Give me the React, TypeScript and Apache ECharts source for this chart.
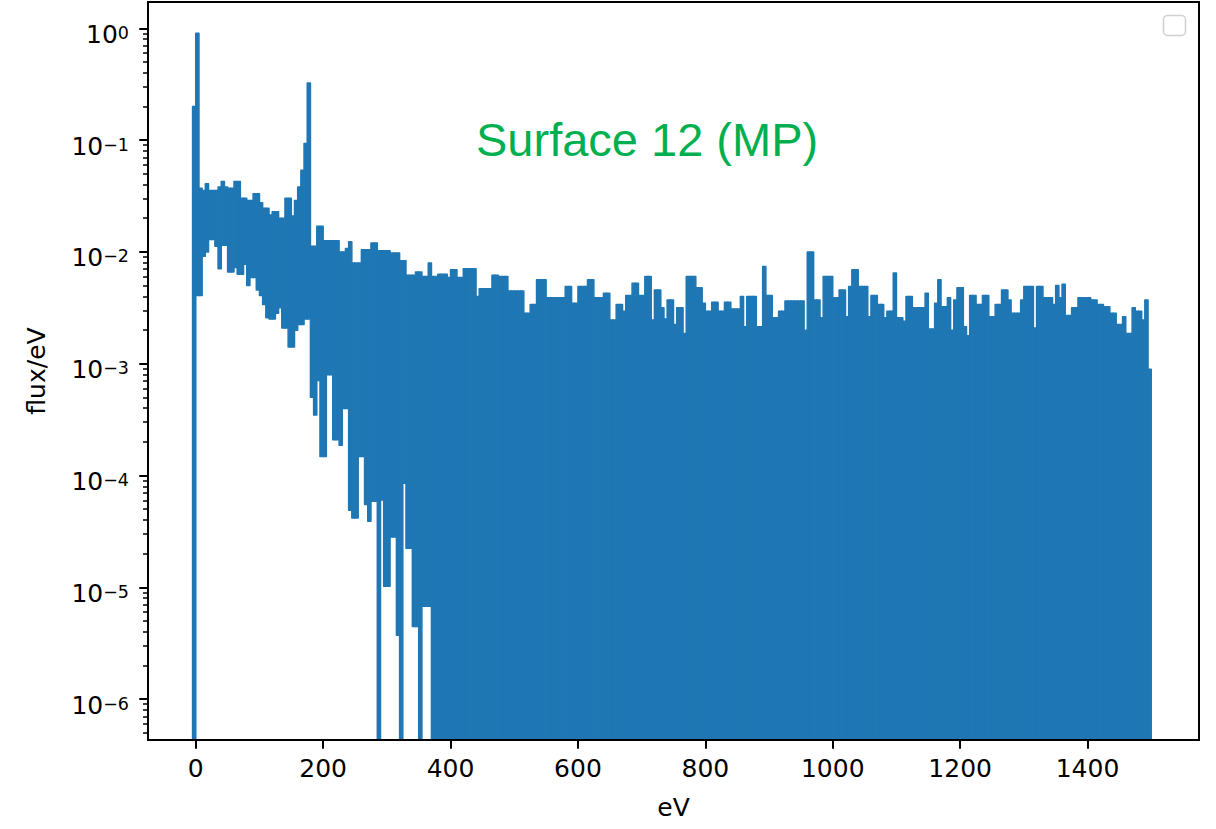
import React, { useEffect, useRef } from 'react';
import * as echarts from 'echarts';

// ---------- data ----------
// Energy grid: 5 eV bins starting at -5 eV
const ENERGY_START_EV = -5;
const ENERGY_BIN_EV = 5;

// Upper envelope of flux/eV per bin (log10), bins -5, 0, 5, ... 1495 eV
const FLUX_MAX_LOG10 = [
  -0.70,
  -0.045, -1.43, -1.45, -1.39, -1.45, -1.45, -1.45, -1.42, -1.37, -1.42,
  -1.43, -1.43, -1.37, -1.37, -1.52, -1.52, -1.54, -1.54, -1.48, -1.48,
  -1.56, -1.61, -1.61, -1.67, -1.64, -1.64, -1.70, -1.70, -1.52, -1.52,
  -1.68, -1.54, -1.42, -1.27, -1.03, -0.49, -1.95, -1.95, -1.77, -1.77,
  -1.90, -1.90, -1.90, -1.90, -1.90, -2.00, -2.00, -1.97, -1.91, -2.10,
  -2.10, -2.10, -1.98, -1.98, -1.98, -1.92, -1.92, -1.99, -1.99, -1.99,
  -1.99, -2.01, -2.01, -2.01, -2.08, -2.08, -2.21, -2.21, -2.21, -2.18,
  -2.18, -2.22, -2.22, -2.10, -2.22, -2.22, -2.20, -2.20, -2.20, -2.23,
  -2.16, -2.16, -2.23, -2.23, -2.15, -2.15, -2.15, -2.15, -2.40, -2.33,
  -2.33, -2.33, -2.33, -2.21, -2.21, -2.22, -2.22, -2.22, -2.35, -2.35,
  -2.35, -2.35, -2.35, -2.55, -2.55, -2.47, -2.47, -2.25, -2.25, -2.25,
  -2.41, -2.41, -2.41, -2.41, -2.41, -2.41, -2.31, -2.31, -2.46, -2.46,
  -2.31, -2.31, -2.31, -2.25, -2.25, -2.41, -2.41, -2.41, -2.37, -2.37,
  -2.61, -2.61, -2.47, -2.47, -2.53, -2.39, -2.39, -2.28, -2.28, -2.39,
  -2.39, -2.22, -2.22, -2.61, -2.34, -2.34, -2.50, -2.60, -2.43, -2.43,
  -2.65, -2.50, -2.50, -2.73, -2.22, -2.22, -2.22, -2.32, -2.32, -2.46,
  -2.53, -2.53, -2.45, -2.45, -2.53, -2.53, -2.45, -2.45, -2.51, -2.51,
  -2.51, -2.40, -2.67, -2.40, -2.40, -2.40, -2.67, -2.67, -2.13, -2.39,
  -2.39, -2.59, -2.59, -2.53, -2.53, -2.44, -2.44, -2.44, -2.44, -2.44,
  -2.44, -2.70, -2.00, -2.00, -2.43, -2.43, -2.59, -2.22, -2.22, -2.22,
  -2.41, -2.41, -2.34, -2.34, -2.58, -2.31, -2.16, -2.16, -2.31, -2.31,
  -2.31, -2.58, -2.39, -2.39, -2.47, -2.47, -2.59, -2.53, -2.53, -2.19,
  -2.59, -2.59, -2.62, -2.40, -2.40, -2.50, -2.50, -2.50, -2.50, -2.37,
  -2.69, -2.69, -2.46, -2.25, -2.49, -2.49, -2.41, -2.70, -2.43, -2.32,
  -2.32, -2.67, -2.75, -2.39, -2.39, -2.47, -2.47, -2.39, -2.39, -2.58,
  -2.58, -2.47, -2.47, -2.34, -2.34, -2.43, -2.55, -2.55, -2.55, -2.43,
  -2.31, -2.31, -2.31, -2.68, -2.31, -2.31, -2.41, -2.41, -2.41, -2.47,
  -2.30, -2.41, -2.29, -2.57, -2.57, -2.50, -2.50, -2.41, -2.41, -2.41,
  -2.41, -2.43, -2.43, -2.47, -2.47, -2.49, -2.49, -2.55, -2.55, -2.65,
  -2.65, -2.58, -2.73, -2.73, -2.50, -2.53, -2.53, -2.61, -2.43, -3.05,
];

// Lower envelope of flux/eV per bin (log10), bins -5 ... 370 eV.
// null = the flux reaches zero inside the bin (off the log scale);
// every bin above 370 eV also reaches zero.
const FLUX_MIN_LOG10: (number | null)[] = [
  null,
  -2.39, -2.39, -2.04, -2.00, -1.89, -1.89, -1.95, -2.15, -1.94, -1.94,
  -2.18, -2.18, -2.14, -2.20, -2.20, -2.11, -2.30, -2.23, -2.23, -2.34,
  -2.39, -2.47, -2.59, -2.60, -2.60, -2.55, -2.50, -2.68, -2.68, -2.85,
  -2.85, -2.70, -2.65, -2.65, -2.60, -2.60, -3.30, -3.46, -3.15, -3.83,
  -3.83, -3.10, -3.10, -3.68, -3.68, -3.73, -3.40, -3.40, -4.31, -4.38,
  -4.38, -3.83, -3.83, -4.26, -4.41, -4.23, -4.23, null, -4.22, -4.99,
  -4.99, -4.55, -4.55, -5.43, null, -4.07, -4.65, -4.65, -5.35, -5.35,
  null, -5.17, -5.17, -5.17, null,
];

const X_TICKS = [0, 200, 400, 600, 800, 1000, 1200, 1400];
const Y_DECADES = [-6, -5, -4, -3, -2, -1, 0];
const TITLE = 'Surface 12 (MP)';
const X_NAME = 'eV';
const Y_NAME = 'flux/eV';

// ---------- styling ----------
const LINE_COLOR = '#1f77b4';
const FONT = 'DejaVu Sans';

export default function App() {
  const ref = useRef<HTMLDivElement>(null);

  useEffect(() => {
    if (!ref.current) return;
    const chart = echarts.init(ref.current, null, { renderer: 'svg' });

    const yMin = Math.pow(10, -6.366);
    const yMax = Math.pow(10, 0.235);
    const majorY = Y_DECADES.map((d) => Math.pow(10, d));
    const minorY: number[] = [];
    for (let d = -7; d <= 0; d++) {
      for (let m = 2; m <= 9; m++) {
        const v = m * Math.pow(10, d);
        if (v >= yMin && v <= yMax) minorY.push(v);
      }
    }

    const bins = FLUX_MAX_LOG10.map((hi, i) => {
      const e0 = ENERGY_START_EV + i * ENERGY_BIN_EV;
      const lo = i < FLUX_MIN_LOG10.length ? FLUX_MIN_LOG10[i] : null;
      return [e0, e0 + ENERGY_BIN_EV, lo == null ? 0 : Math.pow(10, lo), Math.pow(10, hi)];
    });

    const supMinus = (e: number) => (e < 0 ? '\u2212' + -e : String(e));

    chart.setOption({
      animation: false,
      backgroundColor: '#ffffff',
      title: {
        text: TITLE,
        left: 471,
        top: 111,
        textStyle: {
          color: '#00b050',
          fontSize: 47,
          fontWeight: 'normal',
          fontFamily: 'Liberation Sans',
        },
      },
      grid: {
        left: 148,
        right: 17,
        top: 2,
        bottom: 89,
        show: true,
        borderColor: '#000',
        borderWidth: 2,
        backgroundColor: 'transparent',
      },
      xAxis: {
        type: 'value',
        min: -75,
        max: 1575,
        z: 10,
        name: X_NAME,
        nameLocation: 'middle',
        nameGap: 55,
        nameTextStyle: { fontSize: 25, fontFamily: FONT, color: '#000' },
        axisLine: { show: true, onZero: false, lineStyle: { color: '#000', width: 2 } },
        axisTick: {
          show: true,
          length: 8.75,
          lineStyle: { color: '#000', width: 2 },
          customValues: X_TICKS,
        },
        axisLabel: {
          customValues: X_TICKS,
          fontSize: 25,
          fontFamily: FONT,
          color: '#000',
          margin: 16,
          formatter: (v: number) => String(v),
        },
        splitLine: { show: false },
      },
      yAxis: [
        {
          type: 'log',
          min: yMin,
          max: yMax,
          z: 10,
          name: Y_NAME,
          nameLocation: 'middle',
          nameGap: 99,
          nameTextStyle: { fontSize: 25, fontFamily: FONT, color: '#000' },
          axisLine: { show: true, onZero: false, lineStyle: { color: '#000', width: 2 } },
          axisTick: {
            show: true,
            length: 8.75,
            lineStyle: { color: '#000', width: 2 },
            customValues: majorY,
          },
          axisLabel: {
            customValues: majorY,
            margin: 19,
            formatter: (v: number) => '{b|10}{s|' + supMinus(Math.round(Math.log10(v))) + '}',
            rich: {
              b: {
                fontSize: 25,
                fontFamily: FONT,
                color: '#000',
                lineHeight: 28,
                padding: [12, 0, 0, 0],
              },
              s: {
                fontSize: 17.5,
                fontFamily: FONT,
                color: '#000',
                lineHeight: 18,
                padding: [9.5, 0, 0, 0],
                verticalAlign: 'top',
              },
            },
          },
          splitLine: { show: false },
          minorTick: { show: false },
        },
        {
          type: 'log',
          min: yMin,
          max: yMax,
          position: 'left',
          z: 10,
          axisLine: { show: false, onZero: false },
          axisLabel: { show: false },
          axisTick: {
            show: true,
            length: 5,
            lineStyle: { color: '#000', width: 1.5 },
            customValues: minorY,
          },
          splitLine: { show: false },
        },
      ],
      graphic: [
        {
          type: 'rect',
          z: 100,
          shape: { x: 1163.5, y: 15.5, width: 22, height: 20, r: 4 },
          style: { fill: '#ffffff', stroke: '#d0d0d0', lineWidth: 1.5 },
        },
      ],
      series: [
        {
          type: 'custom',
          name: 'flux',
          xAxisIndex: 0,
          yAxisIndex: 0,
          data: bins,
          encode: { x: [0, 1], y: 3 },
          renderItem: (params: any, api: any) => {
            const x0 = api.value(0);
            const x1 = api.value(1);
            const lo = api.value(2);
            const hi = api.value(3);
            const cs = params.coordSys;
            const pTop = api.coord([x0, hi]);
            const pRight = api.coord([x1, hi]);
            const yBottom = lo > 0 ? api.coord([x1, lo])[1] : cs.y + cs.height;
            const shape = echarts.graphic.clipRectByRect(
              { x: pTop[0], y: pTop[1], width: pRight[0] - pTop[0], height: yBottom - pTop[1] },
              { x: cs.x, y: cs.y, width: cs.width, height: cs.height }
            );
            if (!shape) return null;
            return {
              type: 'rect',
              shape,
              style: { fill: LINE_COLOR, stroke: LINE_COLOR, lineWidth: 1.5, lineJoin: 'round' },
            };
          },
        },
      ],
    });

    return () => chart.dispose();
  }, []);

  return (
    <div
      ref={ref}
      style={{ position: 'fixed', left: 0, top: 0, width: 1216, height: 829 }}
    />
  );
}
